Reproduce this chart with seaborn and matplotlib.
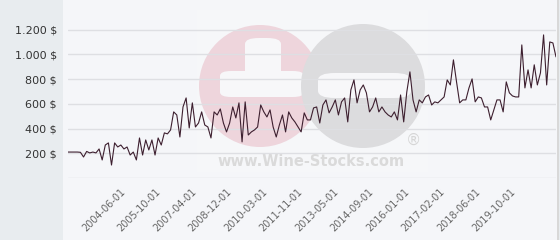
import numpy as np
import pandas as pd
import matplotlib
matplotlib.use("Agg")
import matplotlib.pyplot as plt
import seaborn as sns
from matplotlib.patches import Ellipse, FancyBboxPatch, Rectangle

# ---- data ----
prices = [
    210, 210, 210, 210, 208, 170, 215, 203, 210, 203, 235, 146, 267, 284, 105, 284, 251, 267, 235, 251,
    186, 210, 146, 324, 186, 308, 227, 308, 186, 324, 267, 365, 357, 389, 535, 510, 332, 575, 648, 405, 608,
    413, 445, 535, 429, 413, 324, 535, 510, 559, 445, 373, 445, 575, 486, 608, 292, 616, 348, 373, 389, 413,
    591, 535, 494, 551,
    413, 332, 429, 510, 373, 535, 486, 454, 413, 373, 527, 470, 470, 567, 575, 445, 591, 632, 527, 575,
    632, 510, 616, 648, 454, 713, 794, 608, 713, 753, 689, 535, 575, 648, 535, 575, 535, 510, 494, 535,
    470, 672, 454, 697, 859,
    632, 535, 632, 608, 656, 672, 591, 616, 608, 632, 656, 794, 753, 956, 778, 608, 632, 632, 729, 802,
    616, 656, 648, 575, 575,
    470, 551, 632, 632, 535, 778, 689, 664, 656, 656, 1077, 729, 875, 729, 916, 753, 851, 1158, 753, 1101,
    1093, 980,
]
tick_labels = ["2004-06-01", "2005-10-01", "2007-04-01", "2008-12-01", "2010-03-01", "2011-11-01",
               "2013-05-01", "2014-09-01", "2016-01-01", "2017-02-01", "2018-06-01", "2019-10-01"]
y_ticks = [0, 200, 400, 600, 800, 1000, 1200]

df = pd.DataFrame({"idx": np.arange(len(prices)), "price": prices})

sns.set_theme(style="white")
plt.rcParams["font.family"] = ["DejaVu Sans"]

W, H = 560, 240
fig = plt.figure(figsize=(W / 100, H / 100), dpi=100)
fig.patch.set_facecolor("#e8ecef")

def fx(x):
    return x / W

def fy(y):
    return (H - y) / H

# light panel behind the plot area
fig.patches.append(Rectangle((fx(63), 0), fx(558) - fx(63), 1, transform=fig.transFigure,
                             facecolor="#f5f6f9", edgecolor="none", zorder=0))
fig.patches.append(Rectangle((fx(557), 0), fx(2), 1, transform=fig.transFigure,
                             facecolor="#d8d8d8", edgecolor="none", zorder=0))

# watermark
wm = []
wm.append(Rectangle((fx(197), fy(172)), fx(428) - fx(197), fy(10) - fy(172),
                    facecolor="white", alpha=0.15, edgecolor="none"))
wm.append(Ellipse((fx(260), fy(86)), 2 * 61 / W, 2 * 61 / H, facecolor="#eed5dc", edgecolor="none"))
wm.append(FancyBboxPatch((fx(220), fy(97)), fx(304) - fx(220), fy(71) - fy(97),
                         boxstyle="round,pad=0,rounding_size=0.02", facecolor="#f7f7f9", edgecolor="none"))
wm.append(FancyBboxPatch((fx(245), fy(97)), fx(281) - fx(245), fy(38) - fy(97),
                         boxstyle="round,pad=0,rounding_size=0.025", facecolor="#f7f7f9", edgecolor="none"))
wm.append(Ellipse((fx(363), fy(86)), 2 * 62 / W, 2 * 62 / H, facecolor="#dcdcde", edgecolor="none"))
wm.append(FancyBboxPatch((fx(318), fy(98)), fx(411) - fx(318), fy(73) - fy(98),
                         boxstyle="round,pad=0,rounding_size=0.03", facecolor="#f7f7f9", edgecolor="none"))
for p in wm:
    p.set_transform(fig.transFigure)
    p.set_zorder(0.5)
    fig.patches.append(p)
fig.text(fx(311), fy(161), "www.Wine-Stocks.com", ha="center", va="center", fontsize=10.5,
         fontweight="bold", color="#dadada", zorder=0.6)
fig.text(fx(413), fy(140), "®", ha="center", va="center", fontsize=11, color="#d6d6d6", zorder=0.6)

# axes
ax = fig.add_axes([fx(68), fy(178), fx(556) - fx(68), fy(5) - fy(178)])
ax.set_facecolor("none")
ax.set_zorder(1)

sns.lineplot(data=df, x="idx", y="price", ax=ax, color="#3d1f2f", linewidth=0.8)

n = len(prices)
ax.set_xlim(0, n - 1)
ax.set_ylim(0, 1400)
ax.set_yticks(y_ticks)
ax.set_yticklabels(["" if v == 0 else f"{v:,}".replace(",", ".") + " $" for v in y_ticks])
ax.yaxis.grid(True, color="#dedfe3", linewidth=1)
ax.xaxis.grid(False)
for s in ax.spines.values():
    s.set_visible(False)

scale = (n - 1) / (556 - 68)
tick_pos = [(120 + k * 35.5 - 68) * scale for k in range(len(tick_labels))]
ax.set_xticks(tick_pos)
ax.set_xticklabels(tick_labels, rotation=45, ha="right", rotation_mode="anchor",
                   fontsize=7, color="#666666")
ax.tick_params(axis="x", length=0, pad=6)
ax.tick_params(axis="y", length=0, pad=8, labelsize=8, labelcolor="#333333")
ax.set_xlabel("")
ax.set_ylabel("")

fig.savefig("out.png", dpi=100, facecolor=fig.get_facecolor())
